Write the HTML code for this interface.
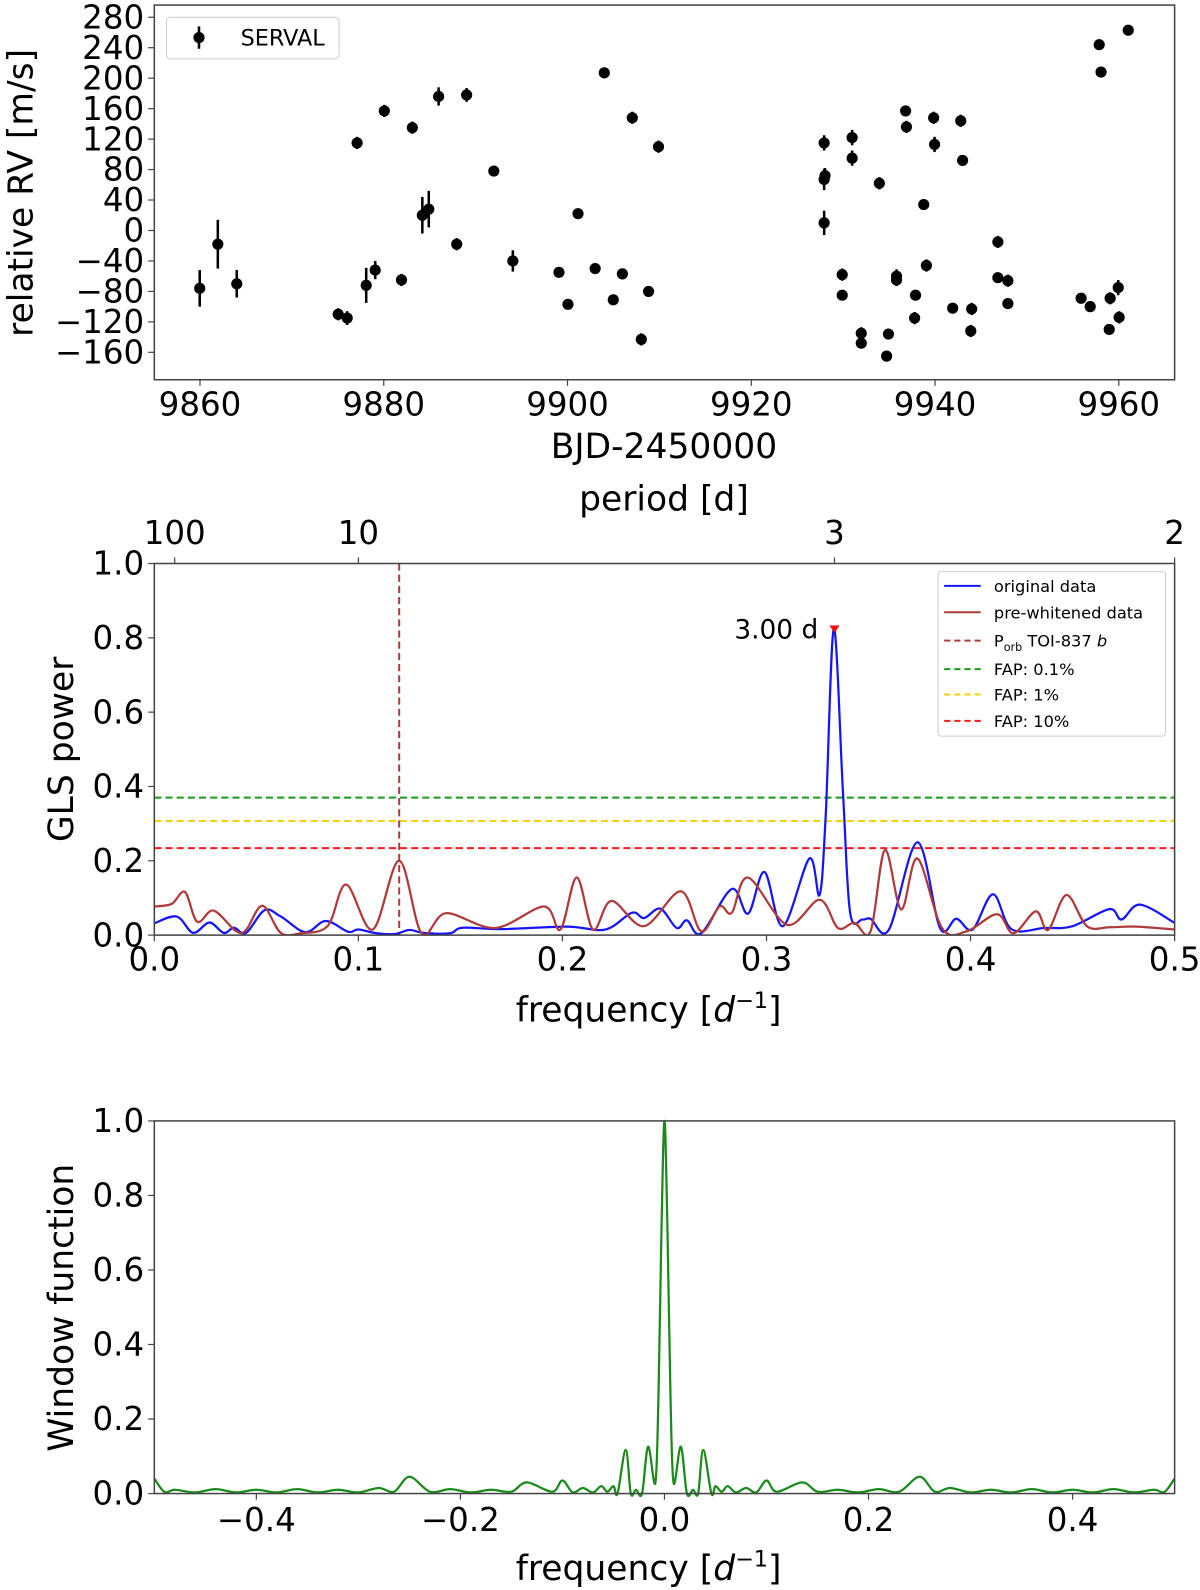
<!DOCTYPE html>
<html><head><meta charset="utf-8"><style>
html,body{margin:0;padding:0;background:#fff;}
svg{display:block;font-family:"DejaVu Sans","Liberation Sans",sans-serif;}
</style></head><body>
<svg id="fig" width="1200" height="1590" viewBox="0 0 1182 1566" preserveAspectRatio="none" xmlns="http://www.w3.org/2000/svg"></svg>
<script>
// ---- Panel 1 data: RV time series ----
const rvDays = [9859.97,9861.94,9864.0,9875.04,9876.02,9877.1,9878.09,9879.07,9880.06,9881.93,9883.11,9884.2,9884.9,9885.97,9887.94,9889.02,9891.98,9894.05,9899.07,9900.05,9901.14,9903.01,9904.0,9904.98,9905.97,9907.05,9908.03,9908.82,9909.9,9927.93,9928.03,9927.93,9927.93,9929.9,9929.9,9930.98,9930.98,9931.97,9931.97,9933.94,9934.93,9934.73,9935.81,9935.81,9936.8,9936.89,9937.88,9937.78,9938.77,9939.06,9939.85,9939.95,9941.92,9942.8,9943.0,9943.99,9943.89,9946.84,9946.84,9947.93,9947.93,9955.9,9956.89,9957.87,9958.07,9958.96,9959.06,9959.94,9960.04,9961.03];
const rvValues = [-76,-18,-70,-110,-115,115,-72,-52,157,-65,135,20,28,176,-18,178,78,-40,-55,-97,22,-50,207,-91,-57,148,-143,-80,110,115,72,67,10,-58,-85,122,95,-135,-148,62,-136,-165,-65,-60,157,136,-85,-115,34,-46,148,113,-102,144,92,-103,-132,-15,-62,-66,-96,-89,-100,244,208,-130,-89,-75,-114,263];
const rvErrors = [24,32,18,8,9,8,23,12,8,8,8,24,24,12,8,9,6,14,6,7,6,6,7,6,7,8,8,7,8,10,10,14,16,8,6,10,10,8,6,8,7,6,8,9,6,8,6,8,7,8,8,10,6,8,6,8,8,8,6,8,7,6,6,7,6,6,8,10,8,6];
const rvYTicks = [280,240,200,160,120,80,40,0,-40,-80,-120,-160];
const rvXTicks = [9860,9880,9900,9920,9940,9960];

// ---- Panel 2 data: GLS periodogram ----
const glsBlueFreq = [0,0.011,0.019,0.027,0.034,0.039,0.045,0.054,0.062,0.074,0.084,0.095,0.1,0.109,0.118,0.125,0.132,0.145,0.151,0.17,0.202,0.221,0.234,0.24,0.248,0.256,0.261,0.268,0.283,0.291,0.299,0.308,0.321,0.326,0.329,0.333,0.3375,0.341,0.347,0.351,0.36,0.374,0.385,0.393,0.401,0.411,0.42,0.436,0.45,0.468,0.474,0.483,0.5];
const glsBluePower = [0.032,0.05,0.006,0.034,0.006,0.02,0.006,0.067,0.05,0.008,0.038,0.009,0.015,0.005,0.003,0.014,0.006,0.005,0.02,0.016,0.023,0.015,0.06,0.046,0.071,0.019,0.04,0.005,0.124,0.058,0.17,0.024,0.206,0.108,0.32,0.825,0.38,0.06,0.042,0.044,0.015,0.25,0.019,0.044,0.015,0.11,0.016,0.019,0.024,0.07,0.042,0.082,0.033];
const glsRedFreq = [0,0.0085,0.015,0.021,0.029,0.040,0.045,0.053,0.062,0.072,0.085,0.094,0.107,0.12,0.131,0.143,0.167,0.191,0.199,0.207,0.215,0.224,0.24,0.258,0.268,0.277,0.283,0.291,0.31,0.326,0.335,0.343,0.351,0.358,0.366,0.374,0.386,0.398,0.413,0.421,0.432,0.438,0.447,0.457,0.468,0.481,0.5];
const glsRedPower = [0.077,0.084,0.116,0.036,0.066,0.011,0.014,0.079,0.006,0.005,0.025,0.136,0.015,0.2,0.005,0.059,0.019,0.077,0.015,0.155,0.015,0.092,0.024,0.118,0.01,0.077,0.06,0.155,0.028,0.095,0.019,0.033,0.01,0.229,0.069,0.206,0.019,0.01,0.056,0.005,0.064,0.014,0.108,0.024,0.021,0.023,0.015];
const fapLevels = [0.37,0.307,0.234];
const fapLabels = ["FAP: 0.1%","FAP: 1%","FAP: 10%"];
const porbFreq = [0.12];
const peakFreq = [0.3333];
const peakPower = [0.825];
const glsXTicks = [0,0.1,0.2,0.3,0.4,0.5];
const glsYTicks = [0,0.2,0.4,0.6,0.8,1.0];
const periodTicks = [100,10,3,2];

// ---- Panel 3 data: window function (positive half, mirrored) ----
const winFreq = [0,0.003,0.006,0.009,0.016,0.022,0.028,0.033,0.038,0.046,0.05,0.056,0.062,0.07,0.08,0.09,0.1,0.11,0.135,0.15,0.17,0.19,0.21,0.23,0.25,0.265,0.28,0.3,0.32,0.34,0.36,0.38,0.4,0.42,0.44,0.46,0.48,0.49,0.5];
const winPower = [1.0,0.7,0.25,0.028,0.126,0.0,0.01,0.0,0.117,0.0,0.02,0.005,0.02,0.003,0.015,0.003,0.035,0.005,0.03,0.005,0.01,0.003,0.012,0.005,0.045,0.005,0.015,0.003,0.01,0.003,0.012,0.003,0.01,0.003,0.012,0.003,0.01,0.004,0.04];
const winXTicks = [-0.4,-0.2,0.0,0.2,0.4];
const winYTicks = [0,0.2,0.4,0.6,0.8,1.0];

const NS="http://www.w3.org/2000/svg";
const svg=document.getElementById('fig');
function mk(tag,attrs,parent){const e=document.createElementNS(NS,tag);for(const k in attrs)e.setAttribute(k,attrs[k]);(parent||svg).appendChild(e);return e;}
function txt(s,x,y,size,anchor,parent){const t=mk('text',{x:x,y:y,'font-size':size,'text-anchor':anchor||'middle',fill:'#000'},parent);t.textContent=s;return t;}
function fmt(v,d){const s=Math.abs(v).toFixed(d);return (v<0?'\u2212':'')+s;}
function smoothPath(pts){let d='M'+pts[0][0].toFixed(1)+','+pts[0][1].toFixed(1);
 for(let i=0;i<pts.length-1;i++){const p0=pts[i-1]||pts[i],p1=pts[i],p2=pts[i+1],p3=pts[i+2]||p2;
  const c1x=p1[0]+(p2[0]-p0[0])/6,c1y=p1[1]+(p2[1]-p0[1])/6,c2x=p2[0]-(p3[0]-p1[0])/6,c2y=p2[1]-(p3[1]-p1[1])/6;
  d+=' C'+c1x.toFixed(1)+','+c1y.toFixed(1)+' '+c2x.toFixed(1)+','+c2y.toFixed(1)+' '+p2[0].toFixed(1)+','+p2[1].toFixed(1);}
 return d;}

const L=152,R=1157;
// ================= Panel 1 =================
const p1={t:5,b:374};
const x1=d=>197+(d-9860)*9.05;
const y1=v=>227-v*0.75;
const g1=mk('g',{});


mk('rect',{x:L,y:p1.t,width:R-L,height:p1.b-p1.t,fill:'none',stroke:'#444','stroke-width':1.5},g1);
rvYTicks.forEach(v=>{mk('line',{x1:L-6,x2:L,y1:y1(v),y2:y1(v),stroke:'#444','stroke-width':1.2},g1);
 const t=txt(fmt(v,0),L-10,y1(v)+11,32,'end',g1);
 
 });
rvXTicks.forEach(v=>{mk('line',{x1:x1(v),x2:x1(v),y1:p1.b,y2:p1.b+6,stroke:'#444','stroke-width':1.2},g1);
 const t=txt(String(v),x1(v),409,32,'middle',g1);
 
 });
rvDays.forEach((d,i)=>{const g=mk('g',{},g1);
 
 
 mk('line',{x1:x1(d),x2:x1(d),y1:y1(rvValues[i]+rvErrors[i]),y2:y1(rvValues[i]-rvErrors[i]),stroke:'#000','stroke-width':2.5},g);
 mk('circle',{cx:x1(d),cy:y1(rvValues[i]),r:5.5,fill:'#000'},g);});
const lg1=mk('g',{},g1);


mk('rect',{x:164,y:17,width:170,height:41,rx:4,fill:'#fff',stroke:'#ccc','stroke-width':1},lg1);
mk('line',{x1:196,x2:196,y1:26,y2:48,stroke:'#000','stroke-width':2.5},lg1);
mk('circle',{cx:196,cy:37,r:5.5,fill:'#000'},lg1);
txt('SERVAL',237,45,22,'start',lg1);
let t;
t=txt('BJD-2450000',654,451,34,'middle');


t=txt('relative RV [m/s]',0,0,34,'middle');
t.setAttribute('transform','translate(32,190) rotate(-90)');



// ================= Panel 2 =================
const p2={t:555,b:921};
const x2=f=>L+f*2010;
const y2=p=>p2.b-p*366;
const g2=mk('g',{});


const clip=mk('clipPath',{id:'c2'},g2);mk('rect',{x:L,y:p2.t,width:R-L,height:p2.b-p2.t},clip);
const fapColors=['#1a9a1a','#f2d20d','#ff1a1a'];
fapLevels.forEach((v,i)=>{const l=mk('line',{x1:L,x2:R,y1:y2(v),y2:y2(v),stroke:fapColors[i],'stroke-width':2,'stroke-dasharray':'7,4'},g2);
 
 });
porbFreq.forEach(f=>{const l=mk('line',{x1:x2(f),x2:x2(f),y1:p2.t,y2:p2.b,stroke:'#b03a3a','stroke-width':2,'stroke-dasharray':'7,4'},g2);
 
 });
let pb=mk('path',{d:smoothPath(glsBlueFreq.map((f,i)=>[x2(f),y2(Math.max(0,glsBluePower[i]))])),fill:'none',stroke:'#1414ff','stroke-width':2.2,'clip-path':'url(#c2)'},g2);


let pr=mk('path',{d:smoothPath(glsRedFreq.map((f,i)=>[x2(f),y2(glsRedPower[i])])),fill:'none',stroke:'#b03a3a','stroke-width':2.2,'clip-path':'url(#c2)'},g2);


peakFreq.forEach((f,i)=>{const px=x2(f),py=y2(peakPower[i]);
 const m=mk('path',{d:`M${px-5},${py-3} L${px+5},${py-3} L${px},${py+4} Z`,fill:'#ff0000'},g2);
 
 
 const lt=txt((1/f).toFixed(2)+' d',px-16,py+10,26,'end',g2);
 
 });
mk('rect',{x:L,y:p2.t,width:R-L,height:p2.b-p2.t,fill:'none',stroke:'#444','stroke-width':1.5},g2);
glsYTicks.forEach(v=>{mk('line',{x1:L-6,x2:L,y1:y2(v),y2:y2(v),stroke:'#444','stroke-width':1.2},g2);
 const t=txt(v.toFixed(1),L-10,y2(v)+11,32,'end',g2);
 
 });
glsXTicks.forEach(v=>{mk('line',{x1:x2(v),x2:x2(v),y1:p2.b,y2:p2.b+6,stroke:'#444','stroke-width':1.2},g2);
 const t=txt(v.toFixed(1),x2(v),956,32,'middle',g2);
 
 });
periodTicks.forEach(P=>{const xx=x2(1/P);mk('line',{x1:xx,x2:xx,y1:p2.t-6,y2:p2.t,stroke:'#444','stroke-width':1.2},g2);
 const t=txt(String(P),xx,536,32,'middle',g2);
 
 });
t=txt('period [d]',654,503,34,'middle');


t=txt('frequency [',0,0,34,'start');
t.setAttribute('transform','translate(508,1006)');
t.innerHTML='frequency [<tspan font-style="italic">d</tspan><tspan font-size="22" dy="-13">\u22121</tspan><tspan dy="13">]</tspan>';


t=txt('GLS power',0,0,34,'middle');
t.setAttribute('transform','translate(72,738) rotate(-90)');


// legend
const lg2=mk('g',{},g2);


mk('rect',{x:924,y:563,width:224,height:162,rx:3,fill:'#fff',stroke:'#ccc','stroke-width':1},lg2);
const legItems=[['original data','#1414ff',false],['pre-whitened data','#b03a3a',false],['Porb','#b03a3a',true],[fapLabels[0],fapColors[0],true],[fapLabels[1],fapColors[1],true],[fapLabels[2],fapColors[2],true]];
const legY=[577,603,631,659,684,710];
legItems.forEach((it,i)=>{const y=legY[i];
 const g=mk('g',{},lg2);
 
 
 mk('line',{x1:930,x2:966,y1:y,y2:y,stroke:it[1],'stroke-width':2,'stroke-dasharray':it[2]?'6,4':'none'},g);
 const tt=txt('',979,y+6,16,'start',g);
 if(i===2){tt.innerHTML='P<tspan font-size="11" dy="4">orb</tspan><tspan dy="-4"> TOI-837 </tspan><tspan font-style="italic">b</tspan>';}
 else tt.textContent=it[0];});

// ================= Panel 3 =================
const p3={t:1104,b:1471};
const x3=f=>L+(f+0.5)*1005;
const y3=p=>p3.b-p*367;
const g3=mk('g',{});


const wpts=[];
for(let i=winFreq.length-1;i>0;i--)wpts.push([x3(-winFreq[i]),y3(winPower[i])]);
for(let i=0;i<winFreq.length;i++)wpts.push([x3(winFreq[i]),y3(winPower[i])]);
const wp=mk('path',{d:smoothPath(wpts),fill:'none',stroke:'#1a8a1a','stroke-width':2.2},g3);


mk('rect',{x:L,y:p3.t,width:R-L,height:p3.b-p3.t,fill:'none',stroke:'#444','stroke-width':1.5},g3);
winYTicks.forEach(v=>{mk('line',{x1:L-6,x2:L,y1:y3(v),y2:y3(v),stroke:'#444','stroke-width':1.2},g3);
 const t=txt(v.toFixed(1),L-10,y3(v)+11,32,'end',g3);
 
 });
winXTicks.forEach(v=>{mk('line',{x1:x3(v),x2:x3(v),y1:p3.b,y2:p3.b+6,stroke:'#444','stroke-width':1.2},g3);
 const t=txt(fmt(v,1),x3(v),1508,32,'middle',g3);
 
 });
t=txt('',0,0,34,'start');
t.setAttribute('transform','translate(508,1556)');
t.innerHTML='frequency [<tspan font-style="italic">d</tspan><tspan font-size="22" dy="-13">\u22121</tspan><tspan dy="13">]</tspan>';


t=txt('Window function',0,0,34,'middle');
t.setAttribute('transform','translate(72,1288) rotate(-90)');


</script>
</body></html>
